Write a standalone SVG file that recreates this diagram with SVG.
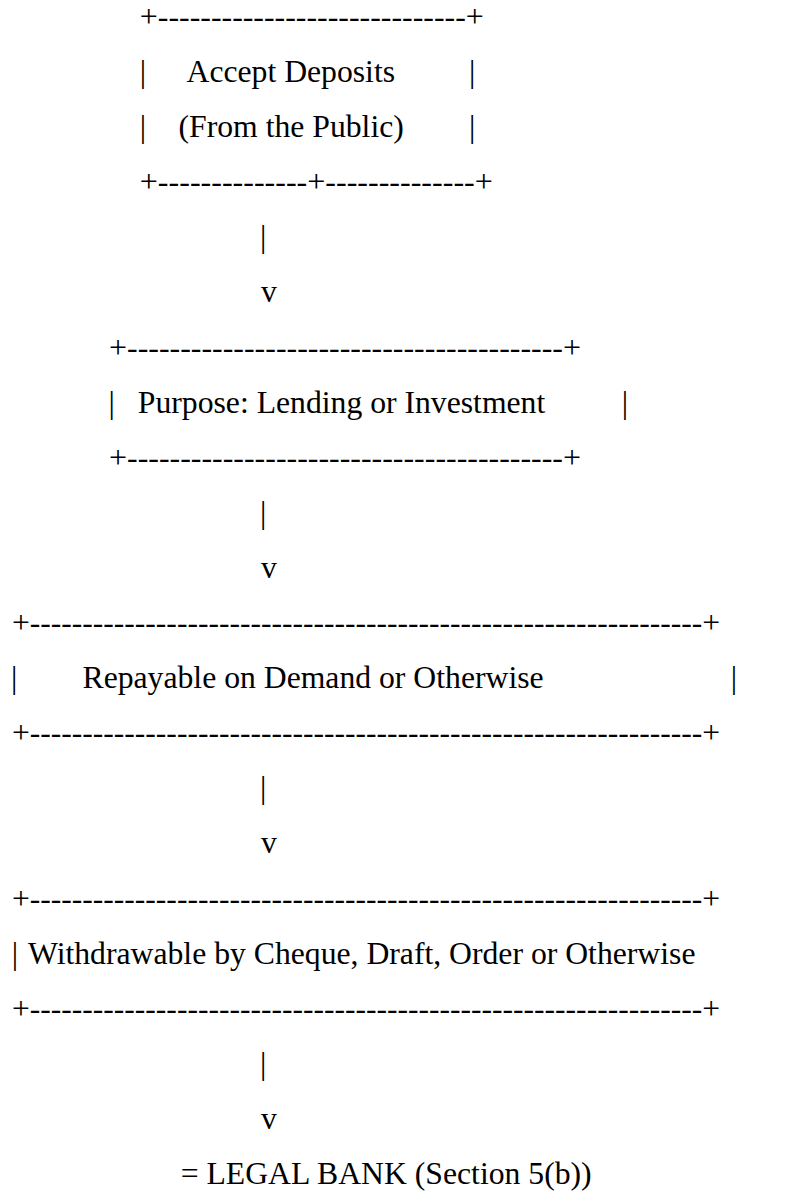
<svg xmlns="http://www.w3.org/2000/svg" width="805" height="1192" viewBox="0 0 805 1192">
  <style>
    text { font-family: "Liberation Serif", "Times New Roman", serif; font-size: 31.7px; fill: #000; }
  </style>
  <rect x="0" y="0" width="805" height="1192" fill="#fff"/>

  <g id="node-accept-deposits">
    <text x="139.8" y="26.9" textLength="344" lengthAdjust="spacingAndGlyphs">+-----------------------------+</text>
    <text x="139.8" y="82">|</text>
    <text x="186.5" y="82">Accept Deposits</text>
    <text x="469.1" y="82">|</text>
    <text x="139.8" y="137.1">|</text>
    <text x="178.5" y="137.1">(From the Public)</text>
    <text x="469.1" y="137.1">|</text>
    <text x="139.8" y="192.2" textLength="353" lengthAdjust="spacingAndGlyphs">+--------------+--------------+</text>
  </g>

  <g id="node-purpose">
    <text x="109" y="357.5" textLength="472" lengthAdjust="spacingAndGlyphs">+-----------------------------------------+</text>
    <text x="108.5" y="412.6">|</text>
    <text x="137.8" y="412.6">Purpose: Lending or Investment</text>
    <text x="621.8" y="412.6">|</text>
    <text x="109" y="467.7" textLength="472" lengthAdjust="spacingAndGlyphs">+-----------------------------------------+</text>
  </g>

  <g id="node-repayable">
    <text x="12" y="633" textLength="708" lengthAdjust="spacingAndGlyphs">+----------------------------------------------------------------+</text>
    <text x="11" y="688.1">|</text>
    <text x="82.5" y="688.1">Repayable on Demand or Otherwise</text>
    <text x="730.8" y="688.1">|</text>
    <text x="12" y="743.2" textLength="708" lengthAdjust="spacingAndGlyphs">+----------------------------------------------------------------+</text>
  </g>

  <g id="node-withdrawable">
    <text x="12" y="908.5" textLength="708" lengthAdjust="spacingAndGlyphs">+----------------------------------------------------------------+</text>
    <text x="11.8" y="963.6">|</text>
    <text x="28" y="963.6">Withdrawable by Cheque, Draft, Order or Otherwise</text>
    <text x="12" y="1018.7" textLength="708" lengthAdjust="spacingAndGlyphs">+----------------------------------------------------------------+</text>
  </g>

  <g id="node-legal-bank">
    <text x="180.7" y="1184">= LEGAL BANK (Section 5(b))</text>
  </g>

  <g id="connectors">
    <text x="260.1" y="247.3">|</text>
    <text x="261" y="302.4">v</text>
    <text x="260.1" y="522.8">|</text>
    <text x="261" y="577.9">v</text>
    <text x="260.1" y="798.3">|</text>
    <text x="261" y="853.4">v</text>
    <text x="260.1" y="1073.8">|</text>
    <text x="261" y="1128.9">v</text>
  </g>
</svg>
